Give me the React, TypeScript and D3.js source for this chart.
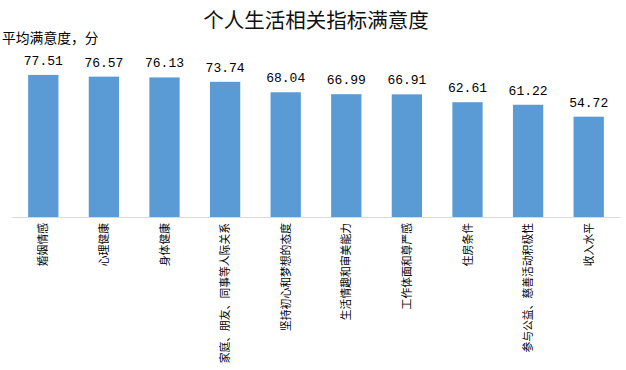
import React, { useEffect, useRef } from 'react';
import * as d3 from 'd3';

// data
const categories = [
  '婚姻情感',
  '心理健康',
  '身体健康',
  '家庭、朋友、同事等人际关系',
  '坚持初心和梦想的态度',
  '生活情趣和审美能力',
  '工作体面和尊严感',
  '住房条件',
  '参与公益、慈善活动积极性',
  '收入水平',
];
const values = [77.51, 76.57, 76.13, 73.74, 68.04, 66.99, 66.91, 62.61, 61.22, 54.72];
const title = '个人生活相关指标满意度';
const yLabel = '平均满意度，分';

const App = () => {
  const chartRef = useRef<SVGSVGElement>(null);

  useEffect(() => {
    drawChart();
  }, []);

  const drawChart = () => {
    const width = 626;
    const height = 370;
    const svg = d3.select(chartRef.current);
    svg.selectAll('*').remove();

    const x = d3.scaleBand<string>()
      .domain(categories)
      .range([13, 619])
      .paddingInner(0.5)
      .paddingOuter(0.25);

    const y = d3.scaleLinear()
      .domain([0, 90])
      .range([217, 52]);

    svg.append('rect')
      .attr('width', width)
      .attr('height', height)
      .attr('fill', '#fff');

    // title
    svg.append('text')
      .attr('x', 316)
      .attr('y', 28)
      .attr('text-anchor', 'middle')
      .attr('font-family', '"Noto Sans CJK SC", sans-serif')
      .attr('font-size', 20.5)
      .attr('fill', '#111')
      .text(title);

    // y axis caption
    svg.append('text')
      .attr('x', 2)
      .attr('y', 43)
      .attr('font-family', '"Noto Sans CJK SC", sans-serif')
      .attr('font-size', 13.8)
      .attr('fill', '#000')
      .text(yLabel);

    // bars
    svg.selectAll('.bar')
      .data(values)
      .enter()
      .append('rect')
      .attr('class', 'bar')
      .attr('x', (d, i) => x(categories[i]) as number)
      .attr('y', d => y(d))
      .attr('width', x.bandwidth())
      .attr('height', d => y(0) - y(d))
      .attr('fill', '#5B9BD5');

    // value labels
    svg.selectAll('.val')
      .data(values)
      .enter()
      .append('text')
      .attr('class', 'val')
      .attr('x', (d, i) => (x(categories[i]) as number) + x.bandwidth() / 2)
      .attr('y', d => y(d) - 10)
      .attr('text-anchor', 'middle')
      .attr('font-family', '"Liberation Mono", monospace')
      .attr('font-size', 13)
      .attr('fill', '#000')
      .text(d => d.toFixed(2));

    // x axis line
    svg.append('line')
      .attr('x1', 12)
      .attr('x2', 620)
      .attr('y1', y(0) + 0.5)
      .attr('y2', y(0) + 0.5)
      .attr('stroke', '#D9D9D9')
      .attr('stroke-width', 1);

    // rotated category labels
    svg.selectAll('.cat')
      .data(categories)
      .enter()
      .append('text')
      .attr('class', 'cat')
      .attr('transform', d => `translate(${(x(d) as number) + x.bandwidth() / 2 + 4},${y(0) + 6}) rotate(-90)`)
      .attr('text-anchor', 'end')
      .attr('font-family', '"Noto Sans CJK SC", sans-serif')
      .attr('font-size', 10.8)
      .attr('fill', '#000')
      .text(d => d);
  };

  return (
    <div style={{ position: 'absolute', left: 0, top: 0, width: 626, height: 370 }}>
      <svg ref={chartRef} width={626} height={370} style={{ display: 'block' }}></svg>
    </div>
  );
};

export default App;
